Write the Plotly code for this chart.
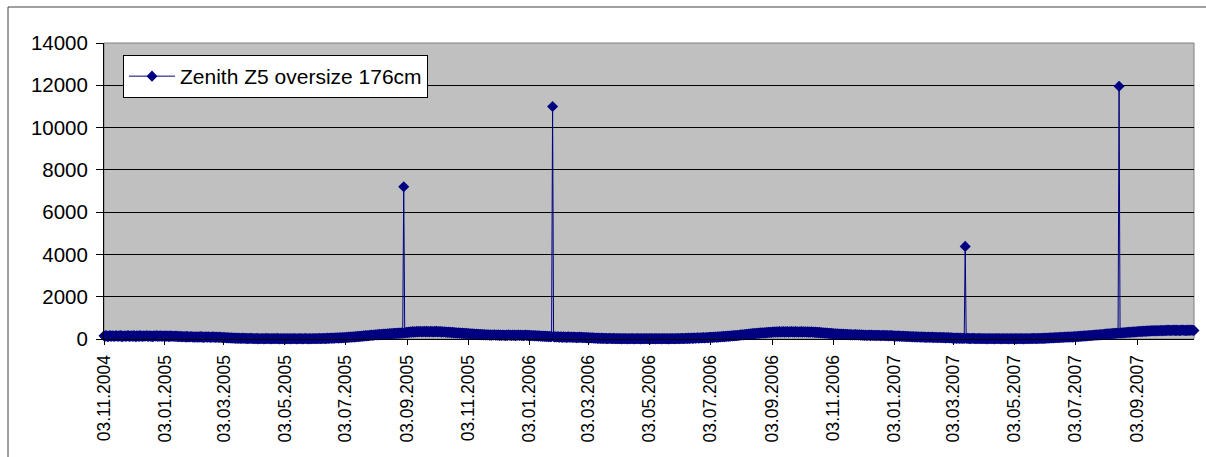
import pandas as pd
import plotly.graph_objects as go

# Daily counts, one row per month, starting 03.11.2004
counts_2004 = [
    150, 120, 160, 135, 110, 145, 170, 125, 140, 155, 115, 130, 165, 140, 120, 150, 135, 160, 110, 145, 130, 155, 125, 140, 170, 135, 115, 150,
    140, 125, 160, 130, 110, 150, 145, 120, 165, 135, 140, 115, 155, 130, 145, 160, 120, 135, 150, 125, 140, 110, 155, 145, 130, 165, 120, 140, 135, 150, 125,
]
counts_2005 = [
    140, 130, 155, 120, 145, 135, 110, 150, 125, 140, 130, 115, 145, 120, 135, 105, 125, 110, 130, 95, 120, 105, 115, 90, 125, 100, 110, 95, 120, 105, 90,
    100, 85, 110, 95, 80, 105, 90, 115, 85, 100, 75, 95, 110, 80, 90, 105, 85, 70, 95, 100, 80, 90, 75, 95, 85, 70, 90, 80,
    75, 60, 80, 55, 70, 50, 65, 45, 60, 40, 55, 35, 50, 40, 30, 45, 25, 40, 35, 20, 30, 45, 25, 35, 20, 30, 15, 25, 35, 20, 30,
    20, 10, 25, 15, 30, 5, 20, 15, 10, 25, 20, 5, 15, 30, 10, 20, 25, 15, 5, 20, 10, 25, 15, 20, 10, 30, 15, 5, 20, 15,
    10, 20, 15, 5, 25, 10, 15, 20, 5, 15, 25, 10, 20, 15, 5, 10, 25, 15, 20, 10, 5, 15, 20, 25, 10, 15, 5, 20, 15, 10, 25,
    15, 20, 10, 25, 15, 20, 30, 10, 25, 20, 35, 15, 30, 25, 40, 20, 35, 45, 30, 50, 40, 35, 55, 45, 60, 40, 55, 65, 50, 70,
    60, 75, 65, 85, 70, 90, 80, 100, 85, 95, 110, 90, 115, 105, 125, 110, 130, 120, 145, 125, 150, 140, 160, 145, 170, 155, 175, 165, 185, 170, 190,
    185, 200, 190, 210, 195, 220, 205, 225, 210, 235, 220, 240, 225, 250, 235, 255, 240, 260, 245, 270, 255, 275, 260, 280, 265, 285, 270, 290, 275, 7200, 290,
    300, 315, 295, 330, 310, 340, 320, 350, 325, 345, 330, 360, 335, 350, 340, 365, 330, 355, 345, 370, 335, 360, 340, 355, 330, 365, 345, 350, 335, 360,
    345, 360, 335, 355, 340, 350, 325, 345, 330, 340, 320, 335, 310, 330, 305, 320, 300, 315, 290, 310, 285, 300, 275, 295, 270, 285, 260, 280, 255, 270, 250,
    265, 245, 260, 240, 250, 230, 245, 225, 240, 215, 235, 210, 225, 205, 220, 200, 215, 195, 210, 190, 205, 185, 200, 180, 195, 175, 190, 185, 200, 180,
    190, 175, 195, 170, 185, 165, 190, 175, 180, 160, 185, 170, 195, 175, 180, 165, 190, 170, 185, 160, 180, 175, 190, 165, 185, 170, 180, 160, 175, 185, 165,
]
counts_2006 = [
    175, 160, 180, 155, 170, 150, 165, 145, 160, 140, 155, 135, 150, 130, 145, 125, 140, 120, 135, 115, 130, 110, 125, 105, 120, 11000, 115, 100, 110, 95, 105,
    100, 85, 105, 90, 80, 100, 85, 95, 75, 90, 100, 80, 85, 95, 70, 90, 80, 85, 65, 80, 75, 90, 70, 80, 65, 75, 70, 60,
    65, 55, 70, 50, 60, 45, 55, 40, 50, 35, 45, 30, 40, 35, 25, 40, 30, 20, 35, 25, 30, 15, 25, 35, 20, 25, 15, 30, 20, 10, 25,
    15, 20, 10, 25, 5, 15, 20, 10, 25, 15, 5, 20, 15, 10, 25, 20, 5, 15, 10, 20, 15, 25, 10, 5, 20, 15, 10, 25, 15, 20,
    10, 15, 25, 5, 20, 15, 10, 20, 5, 25, 15, 10, 20, 15, 5, 20, 10, 25, 15, 10, 20, 5, 15, 25, 10, 20, 15, 10, 25, 15, 20,
    20, 15, 25, 20, 30, 15, 25, 35, 20, 30, 40, 25, 35, 45, 30, 40, 50, 35, 45, 55, 40, 50, 60, 45, 55, 65, 50, 60, 70, 55,
    65, 80, 70, 85, 75, 90, 80, 95, 85, 100, 90, 110, 95, 115, 105, 125, 110, 130, 120, 140, 125, 145, 135, 155, 140, 160, 150, 170, 155, 175, 165,
    180, 195, 185, 205, 190, 215, 200, 225, 210, 235, 220, 245, 230, 255, 240, 265, 250, 270, 260, 280, 265, 290, 275, 295, 285, 300, 290, 310, 295, 315, 305,
    320, 305, 330, 315, 340, 320, 345, 325, 335, 350, 320, 340, 330, 355, 325, 345, 335, 350, 320, 345, 330, 355, 335, 340, 325, 350, 330, 345, 320, 340,
    335, 350, 325, 345, 330, 340, 320, 345, 325, 335, 315, 340, 320, 330, 310, 325, 305, 320, 300, 315, 290, 310, 285, 300, 275, 295, 270, 285, 260, 275, 255,
    265, 245, 255, 235, 250, 230, 245, 225, 240, 220, 235, 215, 230, 210, 225, 205, 220, 200, 215, 195, 210, 190, 205, 195, 210, 185, 200, 190, 205, 180,
    195, 175, 190, 170, 185, 165, 180, 175, 190, 160, 185, 170, 180, 165, 175, 160, 180, 170, 175, 155, 170, 165, 175, 150, 165, 160, 170, 145, 165, 155, 160,
]
counts_2007 = [
    150, 140, 155, 135, 145, 130, 150, 125, 140, 130, 120, 135, 115, 130, 110, 125, 120, 105, 120, 110, 100, 115, 95, 110, 100, 90, 105, 95, 85, 100, 90,
    95, 80, 90, 75, 85, 95, 70, 85, 80, 90, 65, 80, 75, 85, 60, 75, 70, 80, 55, 70, 65, 75, 50, 65, 60, 70, 45, 60,
    55, 40, 50, 35, 45, 30, 40, 50, 25, 40, 35, 20, 35, 30, 4380, 25, 35, 20, 30, 15, 25, 35, 20, 30, 15, 25, 10, 20, 30, 15, 25,
    15, 20, 10, 25, 15, 5, 20, 15, 25, 10, 20, 15, 5, 20, 10, 25, 15, 20, 10, 5, 20, 15, 25, 10, 15, 20, 5, 15, 25, 10,
    20, 10, 15, 25, 5, 20, 15, 10, 25, 15, 20, 5, 15, 25, 10, 20, 15, 10, 25, 20, 15, 30, 20, 25, 15, 30, 25, 20, 35, 25, 30,
    30, 40, 25, 45, 35, 50, 40, 55, 45, 60, 50, 65, 55, 70, 60, 75, 65, 80, 70, 85, 75, 90, 80, 95, 85, 100, 90, 95, 105, 90,
    100, 115, 105, 120, 110, 125, 115, 135, 120, 140, 130, 150, 135, 155, 145, 165, 150, 170, 160, 180, 165, 185, 175, 195, 180, 200, 190, 210, 195, 215, 205,
    220, 235, 225, 245, 230, 250, 240, 260, 245, 265, 255, 275, 260, 280, 270, 11950, 275, 295, 280, 300, 290, 310, 295, 315, 305, 325, 310, 330, 320, 340, 325,
    345, 330, 355, 340, 365, 345, 370, 350, 375, 355, 380, 360, 385, 365, 390, 370, 395, 375, 400, 380, 395, 385, 405, 380, 400, 390, 410, 385, 405, 395,
    415, 390, 420, 400, 425, 395, 415, 405, 430, 400, 420, 395, 425, 405, 415, 390, 420, 410, 430, 400, 415, 395, 425, 405, 420, 400, 430, 410, 415, 405,
]

assert len(counts_2004) == 59 and len(counts_2005) == 365
assert len(counts_2006) == 365 and len(counts_2007) == 303

series_name = "Zenith Z5 oversize 176cm"
start_date = "2004-11-03"
end_date = "2007-10-30"

values = counts_2004 + counts_2005 + counts_2006 + counts_2007
dates = pd.date_range(start=start_date, periods=len(values), freq="D")

NAVY = "#000080"
FONT = "Liberation Sans, Arial, sans-serif"

fig = go.Figure(
    go.Scatter(
        x=dates,
        y=values,
        name=series_name,
        mode="lines+markers",
        line=dict(color=NAVY, width=1),
        marker=dict(symbol="diamond", size=8.5, color=NAVY),
        cliponaxis=False,
        showlegend=True,
    )
)

W, H = 1206, 457
L, R, T, B = 104, 12, 43, 118
pw, ph = W - L - R, H - T - B


def px_x(px):
    return (px - L) / pw


def px_y(py):
    return (H - B - py) / ph


fig.update_layout(
    width=W,
    height=H,
    margin=dict(l=L, r=R, t=T, b=B, pad=0),
    paper_bgcolor="white",
    plot_bgcolor="#C0C0C0",
    font=dict(family=FONT, color="black", size=21),
    legend=dict(
        x=px_x(123),
        y=px_y(55),
        xanchor="left",
        yanchor="top",
        bgcolor="white",
        bordercolor="black",
        borderwidth=1,
        font=dict(family=FONT, size=21, color="black"),
        itemwidth=46,
    ),
    xaxis=dict(
        type="date",
        range=[start_date, end_date],
        tick0=start_date,
        dtick="M2",
        tickformat="%d.%m.%Y",
        tickangle=-90,
        ticks="outside",
        ticklen=5,
        tickcolor="black",
        showline=True,
        linecolor="black",
        linewidth=1,
        showgrid=False,
        zeroline=False,
        tickfont=dict(family=FONT, size=17.5, color="black"),
        ticklabelstandoff=3,
    ),
    yaxis=dict(
        range=[0, 14000],
        dtick=2000,
        tickformat="d",
        ticks="outside",
        ticklen=7,
        tickcolor="black",
        showline=True,
        linecolor="black",
        linewidth=1,
        showgrid=True,
        gridcolor="black",
        gridwidth=1,
        zeroline=False,
        tickfont=dict(family=FONT, size=20.5, color="black"),
        ticklabelstandoff=4,
    ),
    shapes=[
        # plot area frame
        dict(type="rect", xref="paper", yref="paper", x0=0, x1=1, y0=0, y1=1,
             line=dict(color="#808080", width=1), layer="below"),
        # outer chart frame
        dict(type="rect", xref="paper", yref="paper",
             x0=px_x(8), x1=px_x(1215), y0=px_y(470), y1=px_y(7),
             line=dict(color="#404040", width=1), layer="below"),
    ],
)

fig.write_html("out.html")
